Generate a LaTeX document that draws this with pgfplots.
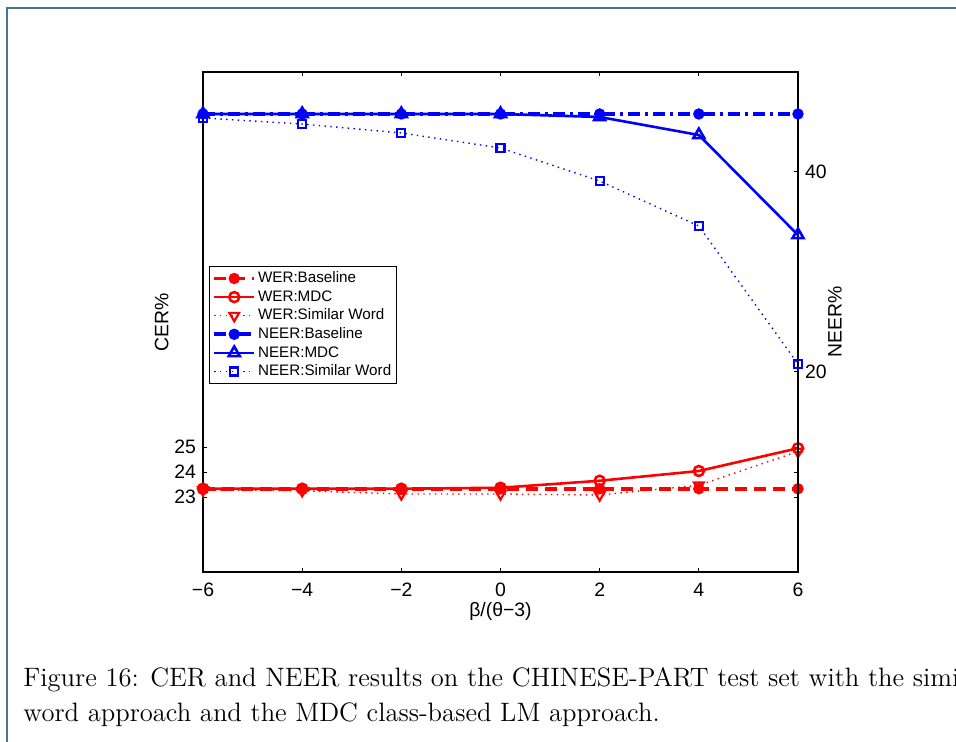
\documentclass[border=0pt]{standalone}
\usepackage{fontspec}
\setmainfont{Latin Modern Roman}
\newfontfamily\hv{Liberation Sans}
\usepackage{pgfplots}
\pgfplotsset{compat=1.18}
\definecolor{framecol}{RGB}{74,112,160}

\pgfplotsset{
  base/.style={
    at={(O)}, anchor=south west, scale only axis,
    width=297.5pt, height=250pt,
    xmin=-6, xmax=6, clip=false,
    tick align=inside, major tick length=2.2pt,
    tick style={black, line width=0.5pt},
    axis line style={line width=0.6pt},
    ticklabel style={font=\hv\fontsize{9.7}{11}\selectfont},
    label style={font=\hv\fontsize{9.7}{11}\selectfont},
    /pgf/number format/assume math mode=true,
  },
  legend image code/.code={
    \draw[mark repeat=2,mark phase=2] plot coordinates {(0pt,0pt) (10pt,0pt) (20pt,0pt)};
  },
}

\begin{document}
\begin{tikzpicture}[x=0.5pt,y=-0.5pt]
\useasboundingbox (0,0) rectangle (956,742);
\clip (0,0) rectangle (956,742);
\draw[framecol, line width=1pt] (7,742) -- (7,8) -- (956,8);
\coordinate (O) at (203,572);

% CER (left axis)
\begin{axis}[base,
    ymin=20, ymax=40, ytick={23,24,25},
    xtick={-6,-4,...,6},
    xticklabels={−6,−4,−2,0,2,4,6},
    xticklabel style={yshift=-2pt},
    xlabel={β/(θ−3)},
    xlabel style={at={(axis description cs:0.5,-0.079)}, anchor=center},
    ylabel={CER\%},
    ylabel style={at={(axis description cs:-0.0694,0.5)}, anchor=center},
]
\addplot[red, line width=1.8pt, dash pattern=on 6pt off 3.5pt, mark=*, mark size=1.9pt, mark options={solid}]
  coordinates {(-6,23.33) (-4,23.33) (-2,23.33) (0,23.33) (2,23.33) (4,23.33) (6,23.33)};
\addplot[red, line width=1.3pt, mark=o, mark size=2.5pt, mark options={solid}]
  coordinates {(-6,23.33) (-4,23.33) (-2,23.33) (0,23.37) (2,23.65) (4,24.04) (6,24.95)};
\addplot[red, line width=0.7pt, dash pattern=on 0.7pt off 2.2pt, mark=triangle, mark size=2.8pt, mark options={solid, rotate=180, line width=1.1pt}]
  coordinates {(-6,23.28) (-4,23.25) (-2,23.12) (0,23.12) (2,23.08) (4,23.47) (6,24.82)};
\end{axis}

% NEER (right axis)
\begin{axis}[base,
    ymin=0, ymax=50, ytick={20,40},
    axis x line=none, axis y line*=right,
    ylabel={NEER\%},
    ylabel style={at={(axis description cs:1.062,0.5)}, anchor=center},
    legend cell align=left,
    legend style={at={(0.01,0.612)}, anchor=north west, draw=black, line width=0.5pt,
      fill=white, font=\hv\fontsize{7.6}{8.5}\selectfont, row sep=0.3pt, inner sep=1.5pt,
      nodes={inner sep=1pt, text height=5.6pt, text depth=1.4pt}},
]
\addlegendimage{red, line width=1.8pt, dash pattern=on 6pt off 3.5pt, mark=*, mark size=1.9pt, mark options={solid}}
\addlegendentry{WER:Baseline}
\addlegendimage{red, line width=1.3pt, mark=o, mark size=2.5pt, mark options={solid}}
\addlegendentry{WER:MDC}
\addlegendimage{red, line width=0.7pt, dash pattern=on 0.7pt off 2.2pt, mark=triangle, mark size=2.8pt, mark options={solid, rotate=180, line width=1.1pt}}
\addlegendentry{WER:Similar Word}

\addplot[blue, line width=1.8pt, dash pattern=on 6pt off 2.5pt on 1.5pt off 2.5pt, mark=*, mark size=1.9pt, mark options={solid}]
  coordinates {(-6,45.8) (-4,45.8) (-2,45.8) (0,45.8) (2,45.8) (4,45.8) (6,45.8)};
\addlegendentry{NEER:Baseline}
\addplot[blue, line width=1.3pt, mark=triangle, mark size=3.2pt, mark options={solid}]
  coordinates {(-6,45.8) (-4,45.8) (-2,45.8) (0,45.8) (2,45.5) (4,43.7) (6,33.7)};
\addlegendentry{NEER:MDC}
\addplot[blue, line width=0.7pt, dash pattern=on 0.7pt off 2.2pt, mark=square, mark size=2pt, mark options={solid, line width=1.1pt}]
  coordinates {(-6,45.4) (-4,44.8) (-2,43.9) (0,42.4) (2,39.1) (4,34.6) (6,20.8)};
\addlegendentry{NEER:Similar Word}
\end{axis}

\node[anchor=base west, font=\fontsize{13.3}{18}\selectfont, inner sep=0pt] at (23,686)
  {Figure 16: CER and NEER results on the CHINESE-PART test set with the simil};
\node[anchor=base west, font=\fontsize{13.3}{18}\selectfont, inner sep=0pt] at (23,721)
  {word approach and the MDC class-based LM approach.};
\end{tikzpicture}
\end{document}
